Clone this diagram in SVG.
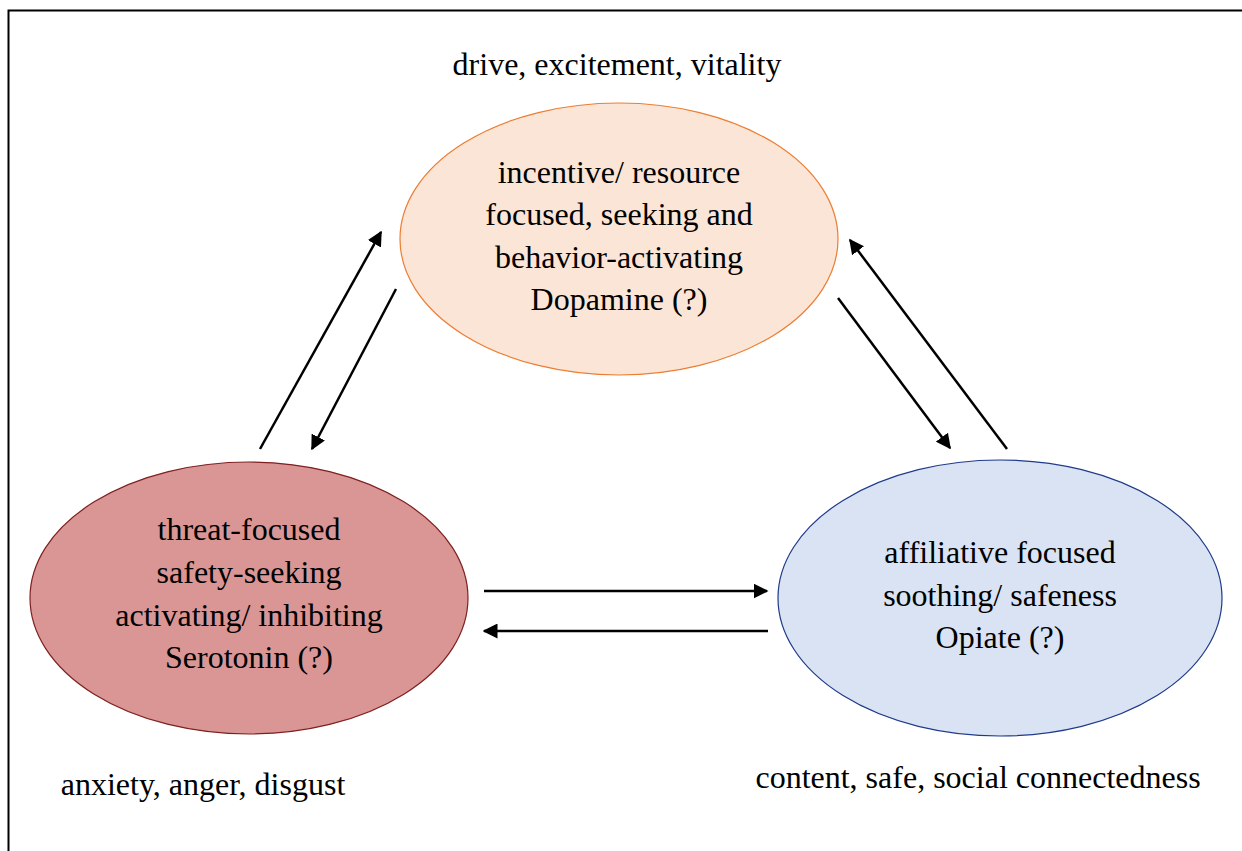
<svg xmlns="http://www.w3.org/2000/svg" width="1242" height="851" viewBox="0 0 1242 851" font-family="'Liberation Serif', 'Times New Roman', serif">
  <style>
    .t { font-family: 'Liberation Serif', 'Times New Roman', serif; font-size: 32px; fill: #000; text-anchor: middle; }
    .conn { stroke: #000; stroke-width: 2.5; fill: none; marker-end: url(#head); }
  </style>
  <defs>
    <marker id="head" viewBox="0 0 10 10" refX="9" refY="5" markerWidth="6" markerHeight="6" markerUnits="strokeWidth" orient="auto">
      <path d="M0,0 L10,5 L0,10 z" fill="#000"/>
    </marker>
  </defs>
  <rect width="1242" height="851" fill="#fff"/>
  <!-- frame -->
  <path d="M1242,10.5 H8.5 V851" fill="none" stroke="#000" stroke-width="2"/>

  <g id="incentive">
    <ellipse cx="619" cy="239" rx="219" ry="136" fill="#FBE5D6" stroke="#ED7D31" stroke-width="1.2"/>
    <text class="t" x="619" y="183">incentive/ resource</text>
    <text class="t" x="619" y="225">focused, seeking and</text>
    <text class="t" x="619" y="268">behavior-activating</text>
    <text class="t" x="619" y="310">Dopamine (?)</text>
  </g>
  <g id="threat">
    <ellipse cx="249" cy="598" rx="219" ry="136" fill="#D99694" stroke="#7F2020" stroke-width="1.2"/>
    <text class="t" x="249" y="540">threat-focused</text>
    <text class="t" x="249" y="583">safety-seeking</text>
    <text class="t" x="249" y="626">activating/ inhibiting</text>
    <text class="t" x="249" y="668">Serotonin (?)</text>
  </g>
  <g id="affiliative">
    <ellipse cx="1000" cy="598" rx="222" ry="138" fill="#DAE3F3" stroke="#1F3A8A" stroke-width="1.2"/>
    <text class="t" x="1000" y="563">affiliative focused</text>
    <text class="t" x="1000" y="606">soothing/ safeness</text>
    <text class="t" x="1000" y="648">Opiate (?)</text>
  </g>

  <g id="labels">
    <text class="t" x="617" y="75">drive, excitement, vitality</text>
    <text class="t" x="203" y="795">anxiety, anger, disgust</text>
    <text class="t" x="978" y="788">content, safe, social connectedness</text>
  </g>

  <g id="connectors">
    <line class="conn" x1="260" y1="449" x2="381" y2="232"/>
    <line class="conn" x1="396" y1="289" x2="312" y2="449"/>
    <line class="conn" x1="838" y1="298" x2="950" y2="448"/>
    <line class="conn" x1="1007" y1="449" x2="850" y2="240"/>
    <line class="conn" x1="484" y1="591" x2="767" y2="591"/>
    <line class="conn" x1="768" y1="631" x2="484" y2="631"/>
  </g>
</svg>
